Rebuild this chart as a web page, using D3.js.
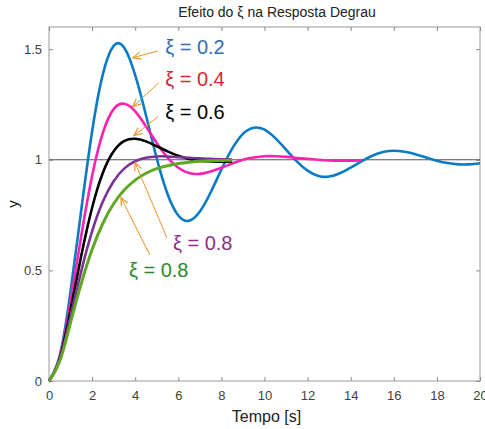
<!DOCTYPE html>
<html>
<head>
<meta charset="utf-8">
<script src="https://cdn.jsdelivr.net/npm/d3@7"></script>
<style>
    body { margin: 0; background: #fff; }
    text { font-family: "Liberation Sans", Arial, sans-serif; }
</style>
</head>
<body>
<script>
// tempo [s], amostras a cada 0.5 s
var tempo = d3.range(0, 20.01, 0.5);

// respostas (uma lista por curva)
var y02 = [0, 0.115, 0.405, 0.775, 1.128, 1.387, 1.515, 1.505, 1.382, 1.201, 1.006, 0.845, 0.748, 0.724,
    0.766, 0.852, 0.956, 1.050, 1.117, 1.145, 1.136, 1.098, 1.046, 0.993, 0.951, 0.927, 0.924, 0.939,
    0.964, 0.993, 1.018, 1.035, 1.041, 1.036, 1.025, 1.010, 0.996, 0.985, 0.979, 0.979, 0.984];
var y04 = [0, 0.108, 0.360, 0.658, 0.927, 1.122, 1.229, 1.253, 1.219, 1.151, 1.076, 1.010, 0.964, 0.940,
    0.936, 0.947, 0.964, 0.983, 1.000, 1.010, 1.016, 1.016, 1.013, 1.008, 1.004, 1.000, 0.997, 0.996,
    0.996, 0.997];
var y06 = [0, 0.101, 0.322, 0.568, 0.783, 0.941, 1.038, 1.085, 1.095, 1.083, 1.061, 1.038, 1.018, 1.004,
    0.996, 0.992, 0.991, 0.992];
var y08 = [0, 0.096, 0.291, 0.498, 0.676, 0.811, 0.903, 0.961, 0.993, 1.009, 1.015, 1.015, 1.012, 1.009,
    1.006, 1.004, 1.002, 1.001];
var y10 = [0, 0.090, 0.264, 0.442, 0.594, 0.713, 0.801, 0.864, 0.908, 0.939, 0.960, 0.973, 0.983, 0.989,
    0.993, 0.995, 0.997, 0.998];

var series = [
    { valores: y02, cor: "#0a7bc4", largura: 2.6 },
    { valores: y04, cor: "#ff21b0", largura: 2.6 },
    { valores: y06, cor: "#000000", largura: 2.6 },
    { valores: y08, cor: "#7b3294", largura: 2.6 },
    { valores: y10, cor: "#5fa823", largura: 3.0 }
];

var xTicks = d3.range(0, 21, 2);
var yTicks = [0, 0.5, 1, 1.5];

// rotulos: texto, posicao do texto e seta (em unidades do grafico)
var rotulos = [
    { texto: "\u03be = 0.2", cor: "#2f6db5", tx: 5.39, ty: 1.479, x0: 5.06, y0: 1.492, x1: 3.89, y1: 1.461 },
    { texto: "\u03be = 0.4", cor: "#d7262e", tx: 5.39, ty: 1.334, x0: 5.10, y0: 1.348, x1: 3.89, y1: 1.240 },
    { texto: "\u03be = 0.6", cor: "#000000", tx: 5.39, ty: 1.185, x0: 5.06, y0: 1.195, x1: 3.94, y1: 1.109 },
    { texto: "\u03be = 0.8", cor: "#8a2d88", tx: 5.75, ty: 0.594, x0: 5.47, y0: 0.648, x1: 3.99, y1: 0.987 },
    { texto: "\u03be = 0.8", cor: "#2a8a2a", tx: 3.71, ty: 0.472, x0: 4.68, y0: 0.570, x1: 3.34, y1: 0.829 }
];

function init() {
    var w = 485;
    var h = 429;
    var esq = 49, dir = 480, topo = 27, base = 381;

    var svg = d3.select("body")
        .append("svg")
        .attr("width", w)
        .attr("height", h);

    var xScale = d3.scaleLinear()
        .domain([0, 20])
        .range([esq, dir]);

    var yScale = d3.scaleLinear()
        .domain([0, 1.6])
        .range([base, topo]);

    // caixa dos eixos
    svg.append("rect")
        .attr("x", esq)
        .attr("y", topo)
        .attr("width", dir - esq)
        .attr("height", base - topo)
        .attr("fill", "#fff")
        .attr("stroke", "#9a9a9a")
        .attr("stroke-width", 1);

    // eixos (ticks para dentro)
    function estiloEixo(g) {
        g.select(".domain").remove();
        g.selectAll(".tick line").attr("stroke", "#8a8a8a");
        g.selectAll(".tick text")
            .attr("fill", "#404040")
            .style("font-size", "13px");
    }

    svg.append("g")
        .attr("transform", "translate(0," + base + ")")
        .call(d3.axisBottom(xScale).tickValues(xTicks).tickSizeInner(-4).tickSizeOuter(0).tickPadding(10)
            .tickFormat(d3.format("d")))
        .call(estiloEixo);

    svg.append("g")
        .attr("transform", "translate(0," + topo + ")")
        .call(d3.axisTop(xScale).tickValues(xTicks).tickSizeInner(-4).tickSizeOuter(0).tickFormat(""))
        .call(estiloEixo);

    svg.append("g")
        .attr("transform", "translate(" + esq + ",0)")
        .call(d3.axisLeft(yScale).tickValues(yTicks).tickSizeInner(-4).tickSizeOuter(0).tickPadding(7)
            .tickFormat(function (d) { return String(d); }))
        .call(estiloEixo);

    svg.append("g")
        .attr("transform", "translate(" + dir + ",0)")
        .call(d3.axisRight(yScale).tickValues(yTicks).tickSizeInner(-4).tickSizeOuter(0).tickFormat(""))
        .call(estiloEixo);

    // linha de referencia y = 1
    svg.append("line")
        .attr("x1", xScale(0))
        .attr("x2", xScale(20))
        .attr("y1", yScale(1))
        .attr("y2", yScale(1))
        .attr("stroke", "#555")
        .attr("stroke-width", 1.2);

    var linha = d3.line()
        .x(function (d, i) { return xScale(tempo[i]); })
        .y(function (d) { return yScale(d); })
        .curve(d3.curveNatural);

    svg.append("g")
        .selectAll("path")
        .data(series)
        .enter()
        .append("path")
        .attr("d", function (s) { return linha(s.valores); })
        .attr("fill", "none")
        .attr("stroke", function (s) { return s.cor; })
        .attr("stroke-width", function (s) { return s.largura; })
        .attr("stroke-linejoin", "round");

    // setas
    svg.append("defs")
        .append("marker")
        .attr("id", "seta")
        .attr("viewBox", "0 -5 10 10")
        .attr("refX", 9)
        .attr("refY", 0)
        .attr("markerWidth", 9)
        .attr("markerHeight", 9)
        .attr("markerUnits", "userSpaceOnUse")
        .attr("orient", "auto")
        .append("path")
        .attr("d", "M0,-4 L9,0 L0,4")
        .attr("fill", "none")
        .attr("stroke", "#f39125")
        .attr("stroke-width", 1.3);

    svg.append("g")
        .selectAll("line")
        .data(rotulos)
        .enter()
        .append("line")
        .attr("x1", function (d) { return xScale(d.x0); })
        .attr("y1", function (d) { return yScale(d.y0); })
        .attr("x2", function (d) { return xScale(d.x1); })
        .attr("y2", function (d) { return yScale(d.y1); })
        .attr("stroke", "#f39125")
        .attr("stroke-width", 1)
        .attr("marker-end", "url(#seta)");

    svg.append("g")
        .selectAll("text")
        .data(rotulos)
        .enter()
        .append("text")
        .attr("x", function (d) { return xScale(d.tx); })
        .attr("y", function (d) { return yScale(d.ty); })
        .attr("fill", function (d) { return d.cor; })
        .style("font-size", "20px")
        .text(function (d) { return d.texto; });

    // titulo e rotulos dos eixos
    svg.append("text")
        .attr("x", 277)
        .attr("y", 17)
        .attr("text-anchor", "middle")
        .attr("fill", "#222")
        .style("font-size", "14px")
        .text("Efeito do \u03be na Resposta Degrau");

    svg.append("text")
        .attr("x", (esq + dir) / 2 + 2)
        .attr("y", 422)
        .attr("text-anchor", "middle")
        .attr("fill", "#222")
        .style("font-size", "16px")
        .text("Tempo [s]");

    svg.append("text")
        .attr("transform", "translate(18," + ((topo + base) / 2) + ") rotate(-90)")
        .attr("text-anchor", "middle")
        .attr("fill", "#222")
        .style("font-size", "15px")
        .text("y");
}

window.onload = init;
</script>
</body>
</html>
